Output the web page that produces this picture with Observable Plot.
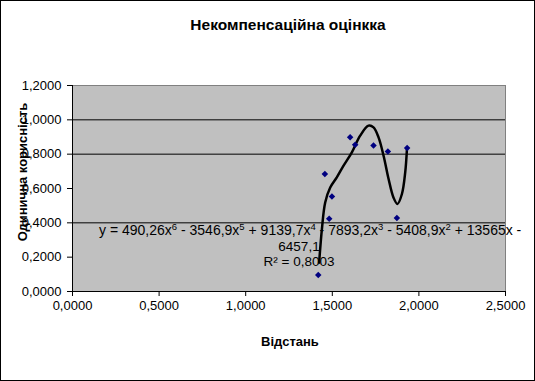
<!DOCTYPE html>
<html>
<head>
<meta charset="utf-8">
<script src="https://cdn.jsdelivr.net/npm/d3@7"></script>
<script src="https://cdn.jsdelivr.net/npm/@observablehq/plot@0.6"></script>
<style>
  html, body { margin: 0; padding: 0; background: #fff; }
  #wrap { position: relative; width: 535px; height: 381px; }
  #border { position: absolute; left: 0; top: 0; width: 535px; height: 381px; box-sizing: border-box; border: 1px solid #000; pointer-events: none; }
  svg { display: block; }
</style>
</head>
<body>
<div id="wrap"><div id="chart"></div><div id="border"></div></div>
<script>
// Data points (distance, unit utility)
const distance = [1.419, 1.457, 1.482, 1.498, 1.603, 1.632, 1.738, 1.821, 1.873, 1.932];
const utility  = [0.096, 0.685, 0.424, 0.554, 0.898, 0.855, 0.850, 0.816, 0.428, 0.836];

// Trendline
const trendX = [1.424, 1.440, 1.459, 1.488, 1.526, 1.565, 1.613, 1.661, 1.709, 1.738, 1.767, 1.796, 1.825, 1.853, 1.876, 1.902, 1.921, 1.931];
const trendY = [0.168, 0.364, 0.519, 0.606, 0.665, 0.733, 0.811, 0.908, 0.966, 0.956, 0.898, 0.791, 0.655, 0.548, 0.510, 0.568, 0.694, 0.830];

const xTicks = [0, 0.5, 1.0, 1.5, 2.0, 2.5];
const yTicks = [0, 0.2, 0.4, 0.6, 0.8, 1.0, 1.2];
const gridY = [0.4, 0.8, 1.0];

const title = "Некомпенсаційна оцінкка";
const xTitle = "Відстань";
const yTitle = "Одинична корисність";
const eqParts = [["y = 490,26x", "6"], [" - 3546,9x", "5"], [" + 9139,7x", "4"], [" - 7893,2x", "3"], [" - 5408,9x", "2"], [" + 13565x -", ""]];
const eqLine2 = "6457,1";
const r2Text = "R² = 0,8003";

const fmt = d => d.toFixed(4).replace(".", ",");

const pts = distance.map((d, i) => ({x: d, y: utility[i]}));
const trend = trendX.map((d, i) => ({x: d, y: trendY[i]}));

const font = "'Liberation Sans', Arial, sans-serif";

const chart = Plot.plot({
  width: 535,
  height: 381,
  marginLeft: 72,
  marginRight: 30,
  marginTop: 85,
  marginBottom: 90,
  style: {fontFamily: font, fontSize: "13px", background: "transparent", color: "#000", overflow: "visible"},
  x: {domain: [0, 2.5]},
  y: {domain: [0, 1.2]},
  marks: [
    Plot.frame({fill: "#c0c0c0", stroke: "#808080"}),
    Plot.ruleY(gridY, {stroke: "#000", strokeWidth: 1}),
    Plot.ruleX([0], {stroke: "#000"}),
    Plot.ruleY([0], {stroke: "#000"}),
    Plot.axisX({ticks: xTicks, tickFormat: fmt, tickSize: 5, tickPadding: 4, label: null, fontSize: 13, stroke: "#000"}),
    Plot.axisY({ticks: yTicks, tickFormat: fmt, tickSize: 5, tickPadding: 6, label: null, fontSize: 13, stroke: "#000"}),
    Plot.line(trend, {x: "x", y: "y", stroke: "#000", strokeWidth: 2.5, curve: "catmull-rom"}),
    Plot.dot(pts, {x: "x", y: "y", symbol: "square", rotate: 45, fill: "#000080", stroke: "none", r: 2.6})
  ]
});

document.getElementById("chart").appendChild(chart);

const svg = d3.select(chart);
const g = svg.append("g").attr("font-family", font).attr("fill", "#000");

g.append("text").attr("x", 288).attr("y", 30).attr("text-anchor", "middle")
  .attr("font-size", 15.5).attr("font-weight", "bold").text(title);

g.append("text").attr("x", 290).attr("y", 346).attr("text-anchor", "middle")
  .attr("font-size", 13).attr("font-weight", "bold").text(xTitle);

g.append("text").attr("transform", "translate(27,172) rotate(-90)").attr("text-anchor", "middle")
  .attr("font-size", 13).attr("font-weight", "bold").text(yTitle);

const eq = g.append("text").attr("x", 99).attr("y", 235).attr("text-anchor", "start").attr("font-size", 14);
let lift = 0;
eqParts.forEach(([base, sup]) => {
  eq.append("tspan").attr("dy", lift).text(base);
  lift = 0;
  if (sup) {
    eq.append("tspan").attr("font-size", 9.5).attr("dy", -5).text(sup);
    lift = 5;
  }
});

g.append("text").attr("x", 299).attr("y", 251).attr("text-anchor", "middle").attr("font-size", 13.5).text(eqLine2);
g.append("text").attr("x", 299).attr("y", 266).attr("text-anchor", "middle").attr("font-size", 13.5).text(r2Text);
</script>
</body>
</html>
